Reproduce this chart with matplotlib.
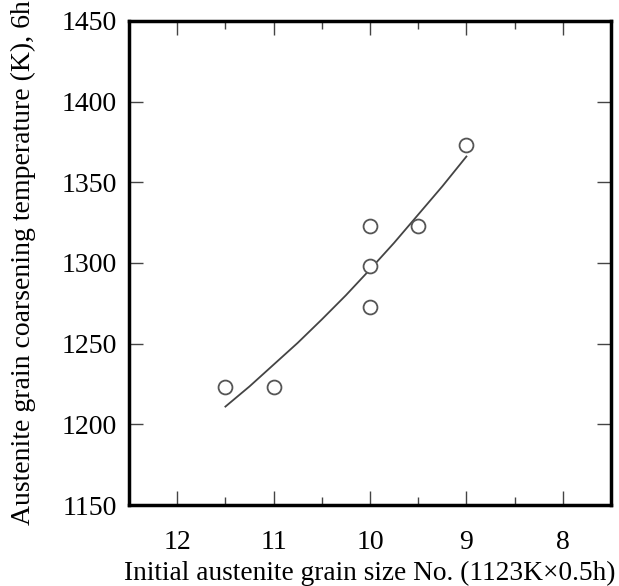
import matplotlib
matplotlib.use("Agg")
import matplotlib.pyplot as plt
from matplotlib.ticker import MultipleLocator

# measured points
grain_no = [11.5, 11.0, 10.0, 10.0, 10.0, 9.5, 9.0]
coarsen_temp = [1223, 1223, 1323, 1298, 1273, 1323, 1373]

# fitted curve
curve_x = [11.5, 11.25, 11.0, 10.75, 10.5, 10.25, 10.0, 9.75, 9.5, 9.25, 9.0]
curve_y = [1211, 1223.5, 1237, 1250.5, 1265, 1280, 1296, 1312.5, 1330, 1347.5, 1366]

x_ticks = [12, 11, 10, 9, 8]
y_ticks = [1150, 1200, 1250, 1300, 1350, 1400, 1450]

plt.rcParams['font.family'] = ['Liberation Serif', 'DejaVu Serif']

fig = plt.figure(figsize=(6.19, 5.86), dpi=100)
ax = fig.add_axes([0.2084, 0.1382, 0.7787, 0.826])

ax.plot(curve_x, curve_y, color='#444444', lw=1.3)
ax.plot(grain_no, coarsen_temp, 'o', ms=10, mfc='white', mec='#555555', mew=1.3)

ax.set_xlim(12.5, 7.5)
ax.set_ylim(1150, 1450)
ax.set_xticks(x_ticks)
ax.set_yticks(y_ticks)
ax.xaxis.set_minor_locator(MultipleLocator(0.5))

for s in ax.spines.values():
    s.set_linewidth(2.5)
ax.tick_params(which='both', direction='in', top=True, right=True, labelsize=20, color='#444444')
ax.tick_params(which='major', length=10, width=1, pad=18)
ax.tick_params(axis='y', which='major', pad=9)
ax.tick_params(which='minor', length=6, width=1)

ax.set_xlabel('Initial austenite grain size No. (1123K×0.5h)', fontsize=19.7, labelpad=4)
ax.set_ylabel('Austenite grain coarsening temperature (K), 6h', fontsize=20, labelpad=18)

fig.savefig('out.png', dpi=100)
